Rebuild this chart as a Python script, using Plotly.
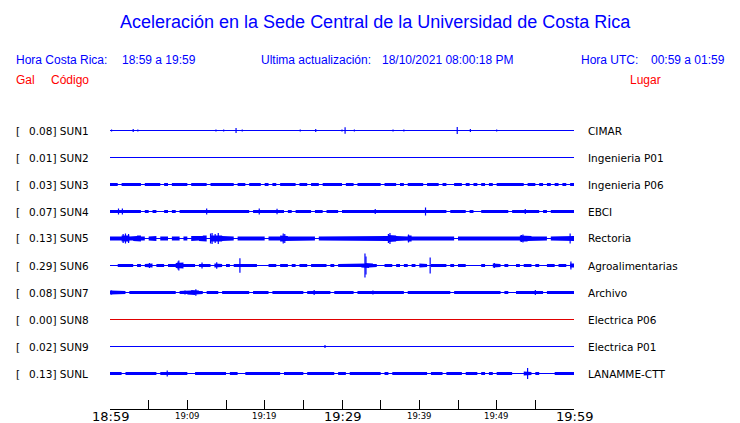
import plotly.graph_objects as go

# ---------------- data ----------------
CODES = ["SUN1", "SUN2", "SUN3", "SUN4", "SUN5", "SUN6", "SUN7", "SUN8", "SUN9", "SUNL"]
PEAK_GAL = [0.08, 0.01, 0.03, 0.07, 0.13, 0.29, 0.08, 0.00, 0.02, 0.13]
PLACES = ["CIMAR", "Ingenieria P01", "Ingenieria P06", "EBCI", "Rectoria",
          "Agroalimentarias", "Archivo", "Electrica P06", "Electrica P01", "LANAMME-CTT"]
TRACE_COLORS = ["#0000ff"] * 7 + ["#e00000"] + ["#0000ff"] * 2

# envelope thickness per half-minute bin (120 bins over the hour), in display px
ENV_SUN1 = ("1111111111" "1111111211" "1111111111" "1111111111" "1111111111" "1122112111"
            "1111111111" "1111111111" "1111111111" "1111111111" "1111111111" "1111111111")
ENV_SUN2 = ("1111111111" "1111111111" "1111111111" "1111111111" "1111111111" "1111111111"
            "1111111111" "1111111111" "1111111111" "1111111111" "1111111111" "1111111111")
ENV_SUN3 = ("3313333313" "3331313333" "1333313333" "3313313331" "3131333313" "3133133333"
            "1331333333" "1333131333" "3133313113" "3131313131" "3333333133" "1313131313")
ENV_SUN4 = ("3344333313" "1311313133" "3333444333" "3333331343" "3344313133" "3313313331"
            "3333333343" "3433333333" "3433333133" "3313113333" "3331333433" "3131333333")
ENV_SUN5 = ("4546645641" "4514414414" "1545616765" "4414455544" "1444654555" "5441444545"
            "5444454454" "4576554645" "5444545441" "4445444445" "5544546654" "5441445445")
ENV_SUN6 = ("1134331313" "4133133563" "3313431431" "3133334311" "1331331313" "3133331313"
            "3333345431" "1331313131" "4313333131" "3311113114" "3131131331" "3113313314")
ENV_SUN7 = ("4333133333" "3333333133" "4543133313" "3333331333" "3133333333" "1334433133"
            "3331333343" "3333331333" "3433333313" "3333333333" "3131133334" "3313333333")
ENV_SUN8 = ("1111111111" "1111111111" "1111111111" "1111111111" "1111111111" "1111111111"
            "1111111111" "1111111111" "1111111111" "1111111111" "1111111111" "1111111111")
ENV_SUN9 = ("1111111111" "1111111111" "1111111111" "1111111111" "1111111111" "1111111111"
            "1111111111" "1111111111" "1111111111" "1111111111" "1111111111" "1111111111")
ENV_SUNL = ("3331333333" "3313433333" "1133333333" "1331133333" "3333133333" "1333333313"
            "3133333333" "1313333333" "3313331333" "3133313131" "3333111431" "3111133333")
ENVELOPES = [ENV_SUN1, ENV_SUN2, ENV_SUN3, ENV_SUN4, ENV_SUN5,
             ENV_SUN6, ENV_SUN7, ENV_SUN8, ENV_SUN9, ENV_SUNL]

# isolated peaks: (minute after 18:59, half height in display px)
SPIKES_SUN1 = [(0.2, 1.0), (3.0, 1.5), (3.6, 1.0), (13.7, 1.0), (14.7, 1.0), (16.3, 2.5),
               (17.1, 1.0), (24.6, 1.0), (26.6, 1.5), (30.0, 1.0), (30.4, 3.3), (31.6, 1.0),
               (36.6, 1.0), (38.0, 1.0), (44.9, 3.5), (46.6, 1.5), (50.0, 1.0)]
SPIKES_SUN2 = []
SPIKES_SUN3 = []
SPIKES_SUN4 = [(1.1, 3.0), (1.6, 3.0), (12.5, 3.0), (19.3, 3.0), (21.6, 2.7), (34.3, 2.5),
               (40.8, 4.0), (53.7, 2.5)]
SPIKES_SUN5 = [(1.7, 4.5), (2.0, 5.0), (2.4, 4.5), (13.0, 5.0), (13.2, 5.5), (13.6, 4.5),
               (14.0, 5.5), (22.4, 5.0), (22.6, 4.5), (36.0, 4.5), (36.2, 5.5), (38.6, 4.0),
               (53.2, 3.5), (53.4, 4.0), (59.5, 5.0)]
SPIKES_SUN6 = [(5.1, 2.5), (8.8, 4.0), (8.9, 5.0), (11.9, 3.0), (13.8, 3.3), (16.8, 7.3),
               (32.97, 12.0), (33.1, 9.0), (41.4, 8.0), (49.7, 2.5), (59.6, 4.0)]
SPIKES_SUN7 = [(0.2, 2.0), (9.7, 2.0), (11.1, 3.3), (26.4, 2.5), (34.0, 2.0), (55.0, 2.5)]
SPIKES_SUN8 = []
SPIKES_SUN9 = [(27.8, 1.5)]
SPIKES_SUNL = [(7.4, 3.0), (54.0, 5.5)]
SPIKES = [SPIKES_SUN1, SPIKES_SUN2, SPIKES_SUN3, SPIKES_SUN4, SPIKES_SUN5,
          SPIKES_SUN6, SPIKES_SUN7, SPIKES_SUN8, SPIKES_SUN9, SPIKES_SUNL]

TICK_MINUTES = [0, 5, 10, 15, 20, 25, 30, 35, 40, 45, 50, 55, 60]
LABEL_MINUTES = [0, 10, 20, 30, 40, 50, 60]
LABEL_TEXT = ["18:59", "19:09", "19:19", "19:29", "19:39", "19:49", "19:59"]
LABEL_BIG = [True, False, False, True, False, False, True]

TITLE = "Aceleración en la Sede Central de la Universidad de Costa Rica"

# ---------------- layout geometry ----------------
W, H = 740, 423
PL, PR = 110, 574          # plot left / right in px
PT, PB = 100, 409          # plot top / bottom (axis line) in px
Y0, DY = 130.5, 27         # first trace centre and spacing in px
BIN = 0.5                  # minutes per envelope bin
BLUE = "#0000ff"


def px_x(px):
    return (px - PL) / (PR - PL)


def px_y(py):
    return (PB - py) / (PB - PT)


fig = go.Figure()

for k, code in enumerate(CODES):
    yc = Y0 + DY * k
    col = TRACE_COLORS[k]
    env = [int(c) for c in ENVELOPES[k]]
    top_x, top_y = [], []
    for i, d in enumerate(env):
        top_x += [i * BIN, (i + 1) * BIN]
        top_y += [yc - d / 2, yc - d / 2]
    bot_x = top_x[::-1]
    bot_y = [2 * yc - v for v in top_y[::-1]]
    fig.add_trace(go.Scatter(x=top_x + bot_x, y=top_y + bot_y, fill="toself",
                             fillcolor=col, mode="lines", line=dict(width=0),
                             hoverinfo="skip", showlegend=False))
    fig.add_trace(go.Scatter(x=[0, len(env) * BIN], y=[yc, yc], mode="lines",
                             line=dict(color=col, width=1), hoverinfo="skip",
                             showlegend=False))
    sx, sy = [], []
    for t, a in SPIKES[k]:
        sx += [t, t, None]
        sy += [yc - a, yc + a, None]
    if sx:
        fig.add_trace(go.Scatter(x=sx, y=sy, mode="lines",
                                 line=dict(color=col, width=1.2),
                                 hoverinfo="skip", showlegend=False))

annotations = []
LAB_FONT = dict(family="DejaVu Sans", size=10.5, color="black")
for k, code in enumerate(CODES):
    yc = Y0 + DY * k
    annotations.append(dict(x=px_x(15), y=px_y(yc), xref="paper", yref="paper",
                            text="[", showarrow=False, xanchor="left", yanchor="middle",
                            font=LAB_FONT))
    annotations.append(dict(x=px_x(27.5), y=px_y(yc), xref="paper", yref="paper",
                            text=f"{PEAK_GAL[k]:.2f}] {code}", showarrow=False,
                            xanchor="left", yanchor="middle", font=LAB_FONT))
    annotations.append(dict(x=px_x(587), y=px_y(yc), xref="paper", yref="paper",
                            text=PLACES[k], showarrow=False, xanchor="left",
                            yanchor="middle", font=LAB_FONT))

for m, txt, big in zip(LABEL_MINUTES, LABEL_TEXT, LABEL_BIG):
    annotations.append(dict(x=m, y=px_y(416), xref="x", yref="paper", text=txt,
                            showarrow=False, xanchor="center", yanchor="middle",
                            font=dict(family="DejaVu Sans", size=13 if big else 8.5,
                                      color="black")))

HDR = dict(family="Liberation Sans, Arial", size=12, color=BLUE)
RED = dict(family="Liberation Sans, Arial", size=12, color="#ff0000")
annotations += [
    dict(x=px_x(375), y=px_y(22), text=TITLE, xanchor="center",
         font=dict(family="Liberation Sans, Arial", size=18, color=BLUE)),
    dict(x=px_x(15), y=px_y(60), text="Hora Costa Rica:", xanchor="left", font=HDR),
    dict(x=px_x(121), y=px_y(60), text="18:59 a 19:59", xanchor="left", font=HDR),
    dict(x=px_x(260), y=px_y(60), text="Ultima actualización:", xanchor="left", font=HDR),
    dict(x=px_x(381), y=px_y(60), text="18/10/2021 08:00:18 PM", xanchor="left", font=HDR),
    dict(x=px_x(580), y=px_y(60), text="Hora UTC:", xanchor="left", font=HDR),
    dict(x=px_x(650), y=px_y(60), text="00:59 a 01:59", xanchor="left", font=HDR),
    dict(x=px_x(15), y=px_y(80), text="Gal", xanchor="left", font=RED),
    dict(x=px_x(50), y=px_y(80), text="Código", xanchor="left", font=RED),
    dict(x=px_x(629), y=px_y(80), text="Lugar", xanchor="left", font=RED),
]
for a in annotations[-10:]:
    a.update(xref="paper", yref="paper", showarrow=False, yanchor="middle")
for a in annotations:
    a["borderpad"] = 0

fig.update_layout(
    width=W, height=H,
    margin=dict(l=PL, r=W - PR, t=PT, b=H - PB, pad=0),
    paper_bgcolor="white", plot_bgcolor="white",
    showlegend=False,
    annotations=annotations,
    xaxis=dict(range=[0, 60], showgrid=False, zeroline=False, showline=True,
               linecolor="black", linewidth=1, ticks="inside", ticklen=9,
               tickcolor="black", tickwidth=1, tickvals=TICK_MINUTES,
               showticklabels=False, fixedrange=True),
    yaxis=dict(range=[PB, PT], showgrid=False, zeroline=False, showline=False,
               showticklabels=False, ticks="", fixedrange=True),
)

fig.write_html("out.html", config={"displayModeBar": False},
               post_script="document.body.style.margin='0';"
                           "document.body.style.overflow='hidden';")
